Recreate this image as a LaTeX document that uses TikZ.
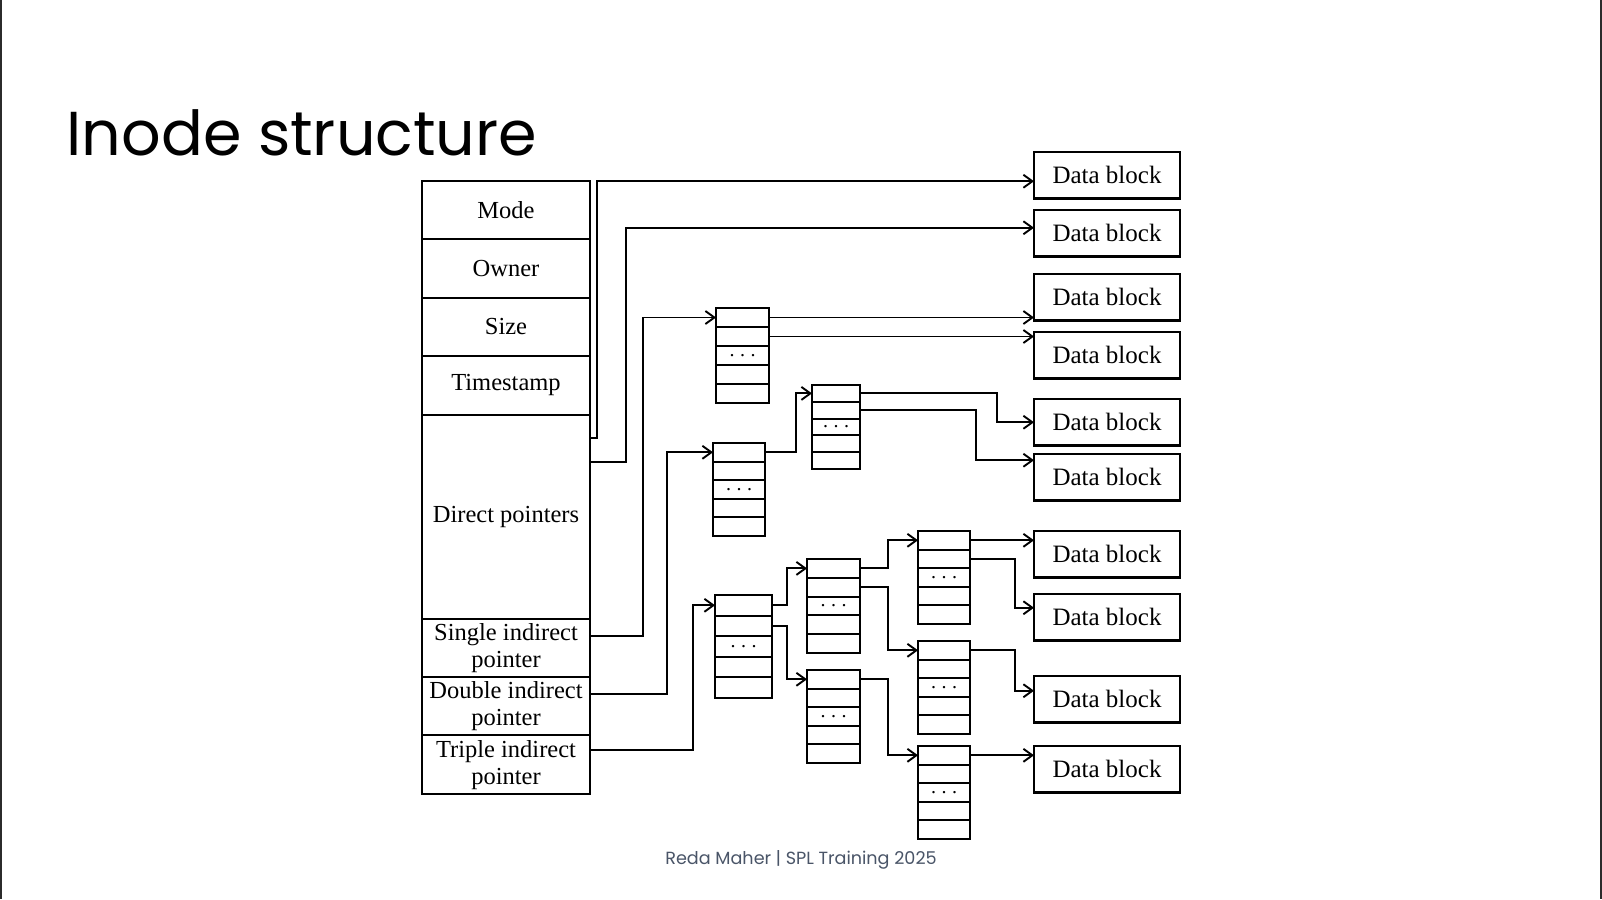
\documentclass[tikz,border=0pt]{standalone}
\usepackage{fontspec}
\setmainfont{Liberation Serif}
\newfontfamily\titlefont{Poppins}
\usepackage{tikz}
\usetikzlibrary{arrows.meta, positioning}

\definecolor{footgray}{HTML}{4A5568}
\definecolor{edgegray}{HTML}{2B2B2B}

% dots in the middle row of a pointer block
\newcommand\slotdots{{\fontsize{20}{20}\selectfont .\hspace{5.5pt}.\hspace{5.5pt}.}}
% pointer block: name, x, top y, width, row height
\newcommand\ptrblock[5]{%
  \foreach \r in {1,...,5}
    \node[slot, minimum width=#4pt, minimum height=#5pt, anchor=north west]
      (#1-\r) at (#2, {#3+(\r-1)*#5}) {\ifnum\r=3 \slotdots\fi};
}

\begin{document}
\begin{tikzpicture}[
  x=1pt, y=-1pt,
  node distance=0pt,
  field/.style={rectangle, draw, line width=2.1pt, inner sep=0pt, outer sep=0pt,
    minimum width=168pt, minimum height=58.4pt, align=center,
    font=\fontsize{24.5}{27}\selectfont},
  datablk/.style={rectangle, draw, line width=2.1pt, inner sep=0pt, outer sep=0pt,
    minimum width=146pt, minimum height=46.5pt, anchor=north west,
    font=\fontsize{25}{27}\selectfont},
  slot/.style={rectangle, draw, line width=1.9pt, inner sep=0pt, outer sep=0pt},
  arrow/.style={-{Straight Barb[length=9pt, width=13pt]}, line width=1.9pt}
]
  \useasboundingbox (0,0) rectangle (1602,899);
  \fill[white] (0,0) rectangle (1602,899);
  \draw[edgegray, line width=2pt] (1,0) -- (1,899);
  \draw[edgegray, line width=2pt] (1601,0) -- (1601,899);

  \node[anchor=base west, font=\titlefont\fontsize{62}{62}\selectfont] (title)
    at (63,155) {Inode structure};
  \node[anchor=base, text=footgray, font=\titlefont\fontsize{17.6}{18}\selectfont] (footer)
    at (801,864) {Reda Maher | SPL Training 2025};

  % inode table
  \node[field, anchor=north west] (mode) at (422,181) {Mode};
  \node[field, below=of mode] (owner) {Owner};
  \node[field, below=of owner] (size) {Size};
  \node[field, below=of size] (stamp) {Timestamp};
  \node[field, below=of stamp, minimum height=204pt] (direct) {Direct pointers};
  \node[field, below=of direct] (single) {Single indirect\\pointer};
  \node[field, below=of single] (double) {Double indirect\\pointer};
  \node[field, below=of double] (triple) {Triple indirect\\pointer};

  % pointer blocks
  \ptrblock{s1}{716}{308}{53}{19}
  \ptrblock{d1}{713}{443}{52}{18.6}
  \ptrblock{d2}{812}{385}{48}{16.8}
  \ptrblock{t1}{715}{595}{57}{20.6}
  \ptrblock{t2a}{807}{559}{53}{18.8}
  \ptrblock{t2b}{807}{670}{53}{18.6}
  \ptrblock{t3a}{918}{531}{52}{18.6}
  \ptrblock{t3b}{918}{641}{52}{18.6}
  \ptrblock{t3c}{918}{746}{52}{18.6}

  % data blocks
  \node[datablk] (db1) at (1034,152) {Data block};
  \node[datablk] (db2) at (1034,210) {Data block};
  \node[datablk] (db3) at (1034,274) {Data block};
  \node[datablk] (db4) at (1034,332) {Data block};
  \node[datablk] (db5) at (1034,399) {Data block};
  \node[datablk] (db6) at (1034,454) {Data block};
  \node[datablk] (db7) at (1034,531) {Data block};
  \node[datablk] (db8) at (1034,594) {Data block};
  \node[datablk] (db9) at (1034,676) {Data block};
  \node[datablk] (db10) at (1034,746) {Data block};

  % direct
  \draw[arrow] ([yshift=-23pt]direct.north east) -- ++(7,0) |- ([yshift=-6pt]db1.west);
  \draw[arrow] ([yshift=-47pt]direct.north east) -- ++(36,0) |- ([yshift=5.5pt]db2.west);
  % single
  \draw[arrow] ([yshift=12pt]single.east) -- ++(53,0) |- (s1-1.west);
  \draw[arrow] (s1-1.east) -- (s1-1.east -| db3.west);
  \draw[arrow] (s1-2.east) -- (s1-2.east -| db4.west);
  % double
  \draw[arrow] ([yshift=12pt]double.east) -- ++(77,0) |- (d1-1.west);
  \draw[arrow] (d1-1.east) -- ++(31,0) |- (d2-1.west);
  \draw[arrow] (d2-1.east) -- ++(137,0) |- (db5.west);
  \draw[arrow] (d2-2.east) -- ++(116,0) |- ([yshift=17pt]db6.west);
  % triple
  \draw[arrow] ([yshift=15pt]triple.east) -- ++(103,0) |- (t1-1.west);
  \draw[arrow] (t1-1.east) -- ++(15,0) |- (t2a-1.west);
  \draw[arrow] (t1-2.east) -- ++(15,0) |- (t2b-1.west);
  \draw[arrow] (t2a-1.east) -- ++(28,0) |- (t3a-1.west);
  \draw[arrow] (t2a-2.east) -- ++(28,0) |- (t3b-1.west);
  \draw[arrow] (t2b-1.east) -- ++(28,0) |- (t3c-1.west);
  \draw[arrow] (t3a-1.east) -- (t3a-1.east -| db7.west);
  \draw[arrow] (t3a-2.east) -- ++(45,0) |- ([yshift=9.5pt]db8.west);
  \draw[arrow] (t3b-1.east) -- ++(45,0) |- ([yshift=8.5pt]db9.west);
  \draw[arrow] (t3c-1.east) -- (t3c-1.east -| db10.west);
\end{tikzpicture}
\end{document}
